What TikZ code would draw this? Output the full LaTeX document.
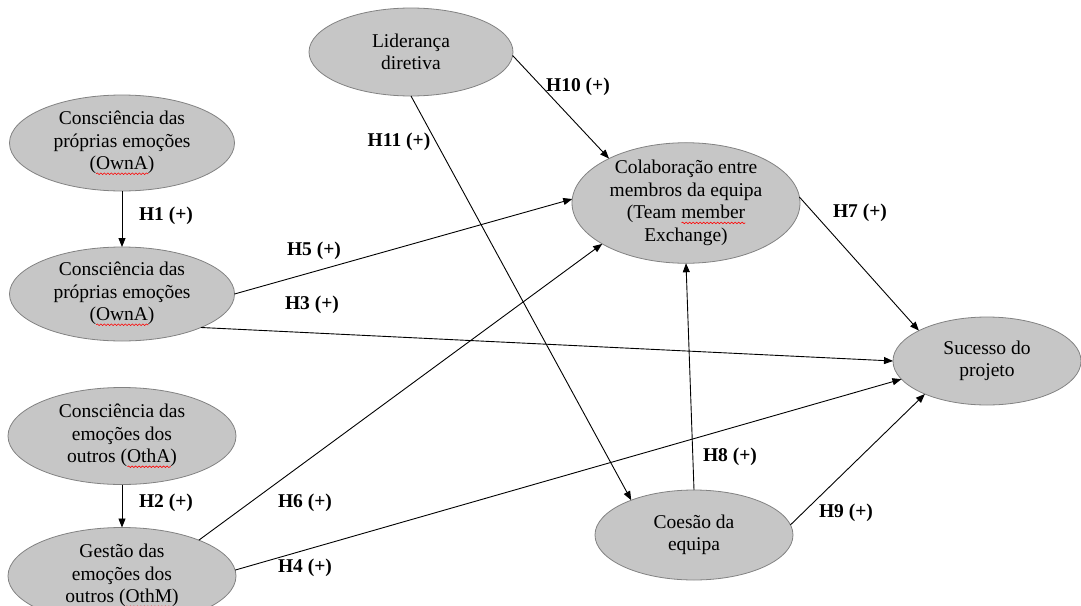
\documentclass[tikz,border=0pt]{standalone}
\usepackage{fontspec}
\setmainfont{Liberation Serif}
\usetikzlibrary{arrows.meta,shapes.geometric,decorations.pathmorphing}
\definecolor{ellfill}{RGB}{198,198,198}
\definecolor{ellline}{RGB}{130,130,130}
\newlength\wvlen
\newcommand\redwave[1]{\settowidth{\wvlen}{#1}\leavevmode\rlap{\raisebox{-4pt}{\tikz[baseline=0pt]\draw[draw=red,fill=none,line width=0.6pt,decorate,decoration={snake,amplitude=0.8pt,segment length=3.5pt}] (0pt,0pt) -- (\wvlen,0pt);}}#1}
\begin{document}
\begin{tikzpicture}[x=1pt,y=-1pt,
  ell/.style={ellipse,draw=ellline,fill=ellfill,line width=0.8pt,inner sep=0pt,outer sep=0pt,
    align=center,font=\fontsize{19.5}{22.5}\selectfont},
  arr/.style={line width=0.9pt,-{Triangle[length=9pt,width=7pt]}},
  lab/.style={font=\fontsize{19.5}{22}\selectfont\bfseries,inner sep=0pt}]
\useasboundingbox (0,0) rectangle (1081,605);
\node[ell,minimum width=225pt,minimum height=96pt] (e1) at (122,143) {Consciência das\\próprias emoções\\(\redwave{OwnA})};
\node[ell,minimum width=225pt,minimum height=94pt] (e2) at (122,294) {Consciência das\\próprias emoções\\(\redwave{OwnA})};
\node[ell,minimum width=228pt,minimum height=97pt] (e3) at (122,436) {Consciência das\\emoções dos\\outros (\redwave{OthA})};
\node[ell,minimum width=228pt,minimum height=97pt] (e4) at (122,576) {Gestão das\\emoções dos\\outros (\redwave{OthM})};
\node[ell,minimum width=204pt,minimum height=88pt] (lid) at (411,52) {Liderança\\diretiva};
\node[ell,minimum width=228pt,minimum height=108pt] (col) at (686,203) {Colaboração entre\\membros da equipa\\(Team \redwave{member}\\Exchange)};
\node[ell,minimum width=188pt,minimum height=88pt] (suc) at (987,361) {Sucesso do\\projeto};
\node[ell,minimum width=198pt,minimum height=90pt] (coe) at (694,535) {Coesão da\\equipa};

\draw[arr] (e1.south) -- (e2.north);
\draw[arr] (e3.south) -- (e4.north);
\draw[arr] (e2.east) -- (col.178);
\draw[arr] (e2.-23) -- (suc.180);
\draw[arr] (e4.25) -- (col.-154);
\draw[arr] (e4.3) -- (suc.-168);
\draw[arr] (lid.-2) -- (col.150);
\draw[arr] (lid.south) -- (coe.151);
\draw[arr] (col.3) -- (suc.156);
\draw[arr] (coe.north) -- (col.south);
\draw[arr] (coe.6) -- (suc.-152);

\node[lab] (l1) at (166,216) {H1 (+)};
\node[lab] (l2) at (166,503) {H2 (+)};
\node[lab] (l5) at (314,251) {H5 (+)};
\node[lab] (l3) at (312,305) {H3 (+)};
\node[lab] (l6) at (305,503) {H6 (+)};
\node[lab] (l4) at (305,568) {H4 (+)};
\node[lab] (l10) at (578,87) {H10 (+)};
\node[lab] (l11) at (399,142) {H11 (+)};
\node[lab] (l7) at (860,213) {H7 (+)};
\node[lab] (l8) at (730,457) {H8 (+)};
\node[lab] (l9) at (846,513) {H9 (+)};
\end{tikzpicture}
\end{document}
